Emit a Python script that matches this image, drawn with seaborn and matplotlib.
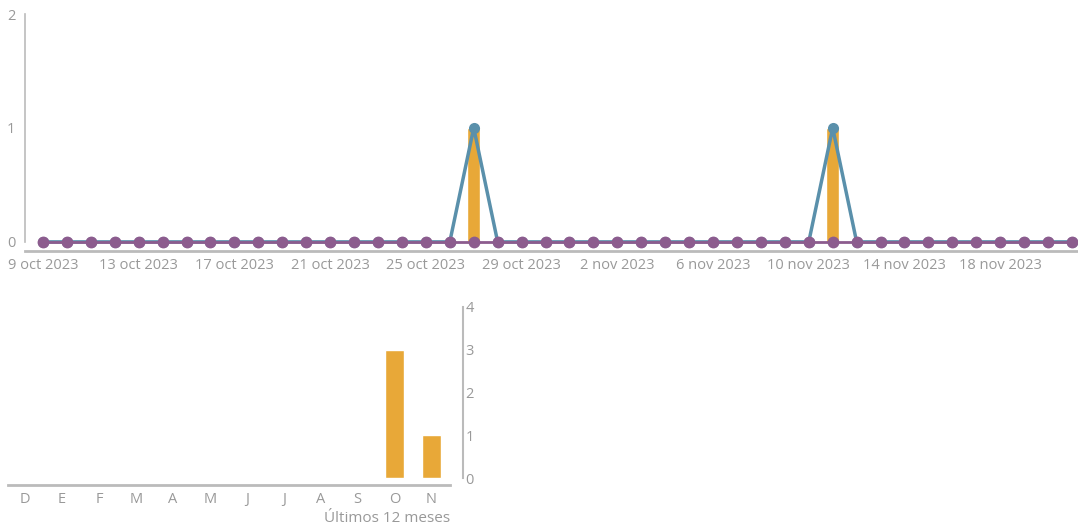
import pandas as pd
import matplotlib
matplotlib.use('Agg')
import matplotlib.pyplot as plt
import seaborn as sns

sns.set_style('white')
plt.rcParams['font.family'] = ['Open Sans', 'DejaVu Sans']

# datos diarios (9 oct 2023 - 21 nov 2023)
fechas = pd.date_range('2023-10-09', '2023-11-21', freq='D')
barras_dia = [0, 0, 0, 0, 0, 0, 0, 0, 0, 0, 0, 0, 0, 0, 0, 0, 0, 0, 1, 0, 0, 0,
              0, 0, 0, 0, 0, 0, 0, 0, 0, 0, 0, 1, 0, 0, 0, 0, 0, 0, 0, 0, 0, 0]
linea_azul = [0, 0, 0, 0, 0, 0, 0, 0, 0, 0, 0, 0, 0, 0, 0, 0, 0, 0, 1, 0, 0, 0,
              0, 0, 0, 0, 0, 0, 0, 0, 0, 0, 0, 1, 0, 0, 0, 0, 0, 0, 0, 0, 0, 0]
linea_morada = [0] * 44
meses_abr = {10: 'oct', 11: 'nov'}

# ultimos 12 meses
meses = ['D', 'E', 'F', 'M', 'A', 'M', 'J', 'J', 'A', 'S', 'O', 'N']
valores_mes = [0, 0, 0, 0, 0, 0, 0, 0, 0, 0, 3, 1]

naranja = '#E8A838'
azul = '#5A90AB'
morado = '#8C5C8E'
gris = '#999999'
gris_eje = '#BBBBBB'

fig = plt.figure(figsize=(10.78, 5.27), dpi=100)

# ---- grafico diario ----
ax1 = fig.add_axes([25 / 1078, 276 / 527, 1053 / 1078, 237 / 527])
df = pd.DataFrame({'pos': range(len(fechas)), 'barras': barras_dia,
                   'azul': linea_azul, 'morado': linea_morada})
ax1.bar(df['pos'], df['barras'], width=0.55, color=naranja, zorder=1)
sns.lineplot(data=df, x='pos', y='azul', ax=ax1, color=azul, linewidth=2.5,
             marker='o', markersize=8, markeredgewidth=0, zorder=2)
sns.lineplot(data=df, x='pos', y='morado', ax=ax1, color=morado, linewidth=2,
             marker='o', markersize=8.5, markeredgewidth=0, zorder=3)
ax1.set_xlim(-0.75, 43.25)
ax1.set_ylim(-0.08, 2)
ax1.set_yticks([0, 1, 2])
pos_ticks = list(range(0, len(fechas), 4))
ax1.set_xticks(pos_ticks)
ax1.set_xticklabels([f"{fechas[i].day} {meses_abr[fechas[i].month]} 2023" for i in pos_ticks])
ax1.set_xlabel('')
ax1.set_ylabel('')
for s in ['top', 'right']:
    ax1.spines[s].set_visible(False)
ax1.spines['left'].set_bounds(0, 2)
ax1.spines['left'].set_color(gris_eje)
ax1.spines['left'].set_linewidth(1.2)
ax1.spines['bottom'].set_color(gris_eje)
ax1.spines['bottom'].set_linewidth(2)
ax1.tick_params(axis='both', length=0, colors=gris, labelsize=10.5)
ax1.tick_params(axis='x', pad=5)
ax1.tick_params(axis='y', pad=7)

# ---- ultimos 12 meses ----
ax2 = fig.add_axes([8 / 1078, 42 / 527, 442 / 1078, 178 / 527])
sns.barplot(x=list(range(12)), y=valores_mes, ax=ax2, color=naranja,
            width=0.5, saturation=1)
ax2.set_xticks(range(12))
ax2.set_xticklabels(meses)
ax2.set_xlim(-0.46, 11.5)
ax2.set_ylim(-0.16, 4)
ax2.set_yticks([0, 1, 2, 3, 4])
ax2.yaxis.tick_right()
for s in ['top', 'left']:
    ax2.spines[s].set_visible(False)
ax2.spines['right'].set_position(('outward', 9))
ax2.spines['right'].set_bounds(0, 4)
ax2.spines['right'].set_color(gris_eje)
ax2.spines['right'].set_linewidth(1.5)
ax2.spines['bottom'].set_color(gris_eje)
ax2.spines['bottom'].set_linewidth(2)
ax2.tick_params(axis='both', length=0, colors=gris, labelsize=10.5)
ax2.tick_params(axis='x', pad=5)
ax2.tick_params(axis='y', pad=2)
ax2.set_ylabel('')
ax2.set_xlabel('Últimos 12 meses', color=gris, fontsize=11, loc='right', labelpad=3)

fig.savefig('out.png', dpi=100)
